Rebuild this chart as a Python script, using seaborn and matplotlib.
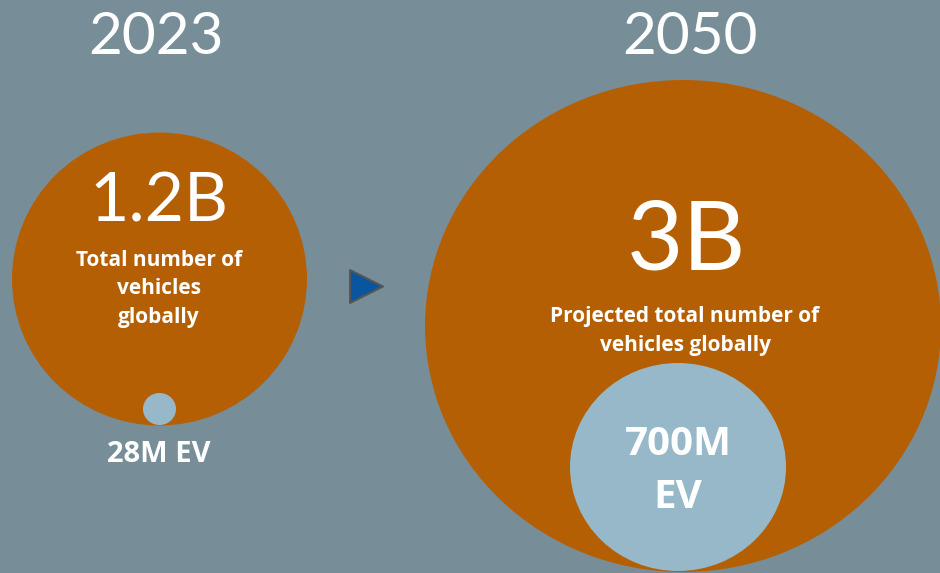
import numpy as np
import pandas as pd
import matplotlib
matplotlib.use('Agg')
import matplotlib.pyplot as plt
from matplotlib.patches import Ellipse
import seaborn as sns

YEARS = ['2023', '2050']
TOTAL_LABELS = ['1.2B', '3B']
TOTAL_CAPTIONS = ['Total number of\nvehicles\nglobally',
                  'Projected total number of\nvehicles globally']
EV_LABELS = ['28M EV', '700M\nEV']

# layout (pixel space, 940x573)
BIG_CX = [159.5, 683]
BIG_CY = [279, 326]
BIG_W = [295, 516]
BIG_H = [293, 492]
EV_CX = [159.5, 678]
EV_CY = [409, 467]
EV_W = [33, 216]
EV_H = [32, 208]

BG = '#778e99'
ORANGE = '#b55f05'
LIGHTBLUE = '#97b8c9'

sns.set_theme(style='white')
plt.rcParams['font.family'] = ['Lato', 'DejaVu Sans']
CAPTION_FONT = ['Open Sans', 'DejaVu Sans']

fig = plt.figure(figsize=(9.4, 5.73), dpi=100)
fig.patch.set_facecolor(BG)
ax = fig.add_axes([0, 0, 1, 1])
ax.set_facecolor(BG)
ax.set_xlim(0, 940)
ax.set_ylim(573, 0)
ax.axis('off')

for i in range(2):
    ax.add_patch(Ellipse((BIG_CX[i], BIG_CY[i]), BIG_W[i], BIG_H[i],
                         facecolor=ORANGE, edgecolor='none', zorder=1))
    ax.add_patch(Ellipse((EV_CX[i], EV_CY[i]), EV_W[i], EV_H[i],
                         facecolor=LIGHTBLUE, edgecolor='none', zorder=2))

# arrow between the two years
arrow = pd.DataFrame({'x': [366], 'y': [286]})
sns.scatterplot(data=arrow, x='x', y='y', marker='>', s=560,
                color='#0a55a0', edgecolor='#555555', linewidth=1.5,
                ax=ax, zorder=3, legend=False)

# year headings
ax.text(156, 37, YEARS[0], color='white', fontsize=42, fontweight='normal',
        ha='center', va='center')
ax.text(690, 37, YEARS[1], color='white', fontsize=42, fontweight='normal',
        ha='center', va='center')

# totals
ax.text(159, 203, TOTAL_LABELS[0], color='white', fontsize=49, fontweight='normal',
        ha='center', va='center', zorder=4)
ax.text(686, 242, TOTAL_LABELS[1], color='white', fontsize=70, fontweight='normal',
        ha='center', va='center', zorder=4)
ax.text(159, 289, TOTAL_CAPTIONS[0], color='white', fontsize=15, fontweight='bold',
        family=CAPTION_FONT, ha='center', va='center', linespacing=1.5, zorder=4)
ax.text(685, 331, TOTAL_CAPTIONS[1], color='white', fontsize=15, fontweight='bold',
        family=CAPTION_FONT, ha='center', va='center', linespacing=1.5, zorder=4)

# EV counts
ax.text(159, 455, EV_LABELS[0], color='white', fontsize=21, fontweight='bold',
        family=CAPTION_FONT, ha='center', va='center', zorder=4)
ax.text(678, 471, EV_LABELS[1], color='white', fontsize=29, fontweight='bold',
        family=CAPTION_FONT, ha='center', va='center', linespacing=1.45, zorder=4)

fig.savefig('out.png', dpi=100, facecolor=BG)
